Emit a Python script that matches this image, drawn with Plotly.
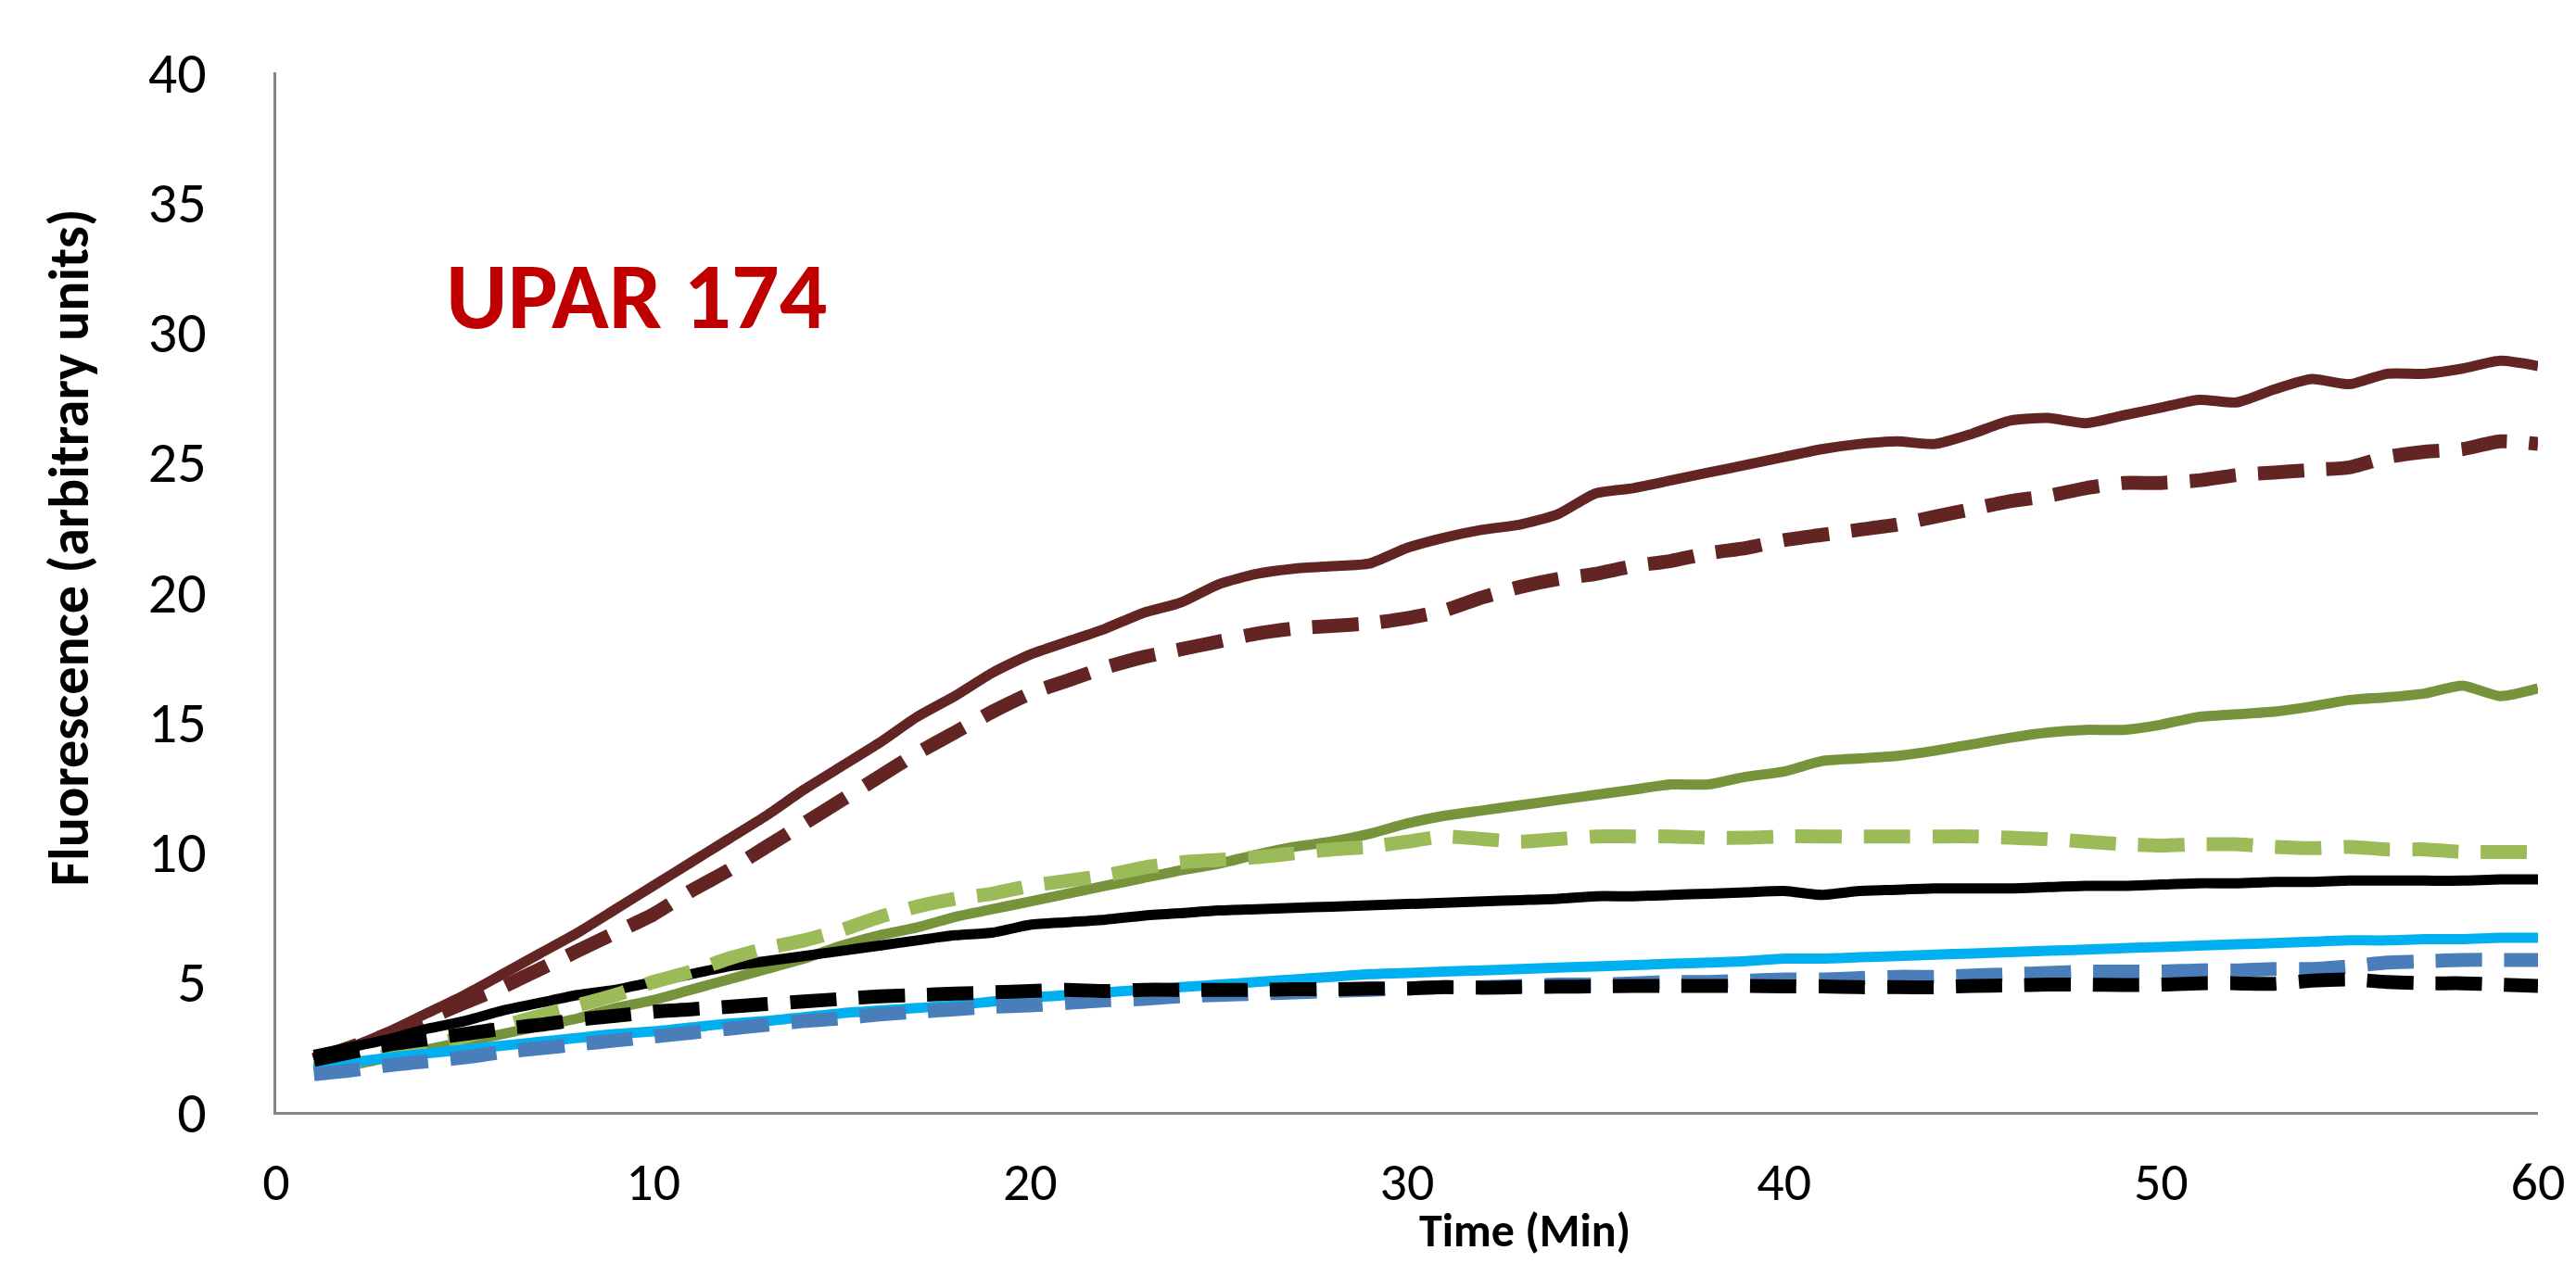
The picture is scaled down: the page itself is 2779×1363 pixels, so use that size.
import plotly.graph_objects as go

time_min = list(range(1, 61))

brown_solid = [2.0, 2.5, 3.1, 3.8, 4.5, 5.3, 6.1, 6.9, 7.8, 8.7,
               9.6, 10.5, 11.4, 12.4, 13.3, 14.2, 15.2, 16.0, 16.9, 17.6,
               18.1, 18.6, 19.2, 19.6, 20.3, 20.7, 20.9, 21.0, 21.1, 21.7,
               22.1, 22.4, 22.6, 23.0, 23.8, 24.0, 24.3, 24.6, 24.9, 25.2,
               25.5, 25.7, 25.8, 25.7, 26.1, 26.6, 26.7, 26.5, 26.8, 27.1,
               27.4, 27.3, 27.8, 28.2, 28.0, 28.4, 28.4, 28.6, 28.9, 28.7]

brown_dashed = [2.0, 2.5, 3.0, 3.6, 4.2, 4.8, 5.5, 6.2, 6.9, 7.6,
                8.5, 9.3, 10.2, 11.1, 12.0, 12.9, 13.8, 14.6, 15.4, 16.1,
                16.6, 17.1, 17.5, 17.8, 18.1, 18.4, 18.6, 18.7, 18.8, 19.0,
                19.3, 19.8, 20.2, 20.5, 20.7, 21.0, 21.2, 21.5, 21.7, 22.0,
                22.2, 22.4, 22.6, 22.9, 23.2, 23.5, 23.7, 24.0, 24.2, 24.2,
                24.3, 24.5, 24.6, 24.7, 24.8, 25.2, 25.4, 25.5, 25.8, 25.7]

olive_solid = [1.6, 1.8, 2.1, 2.4, 2.7, 3.0, 3.3, 3.6, 4.0, 4.3,
               4.7, 5.1, 5.5, 5.9, 6.4, 6.8, 7.1, 7.5, 7.8, 8.1,
               8.4, 8.7, 9.0, 9.3, 9.55, 9.9, 10.2, 10.4, 10.7, 11.1,
               11.4, 11.6, 11.8, 12.0, 12.2, 12.4, 12.6, 12.6, 12.9, 13.1,
               13.5, 13.6, 13.7, 13.9, 14.15, 14.4, 14.6, 14.7, 14.7, 14.9,
               15.2, 15.3, 15.4, 15.6, 15.85, 15.95, 16.1, 16.4, 16.0, 16.3]

green_dashed = [1.7, 1.9, 2.2, 2.5, 2.9, 3.3, 3.7, 4.1, 4.5, 5.0,
                5.4, 5.9, 6.3, 6.6, 7.0, 7.5, 7.9, 8.2, 8.4, 8.7,
                8.9, 9.1, 9.4, 9.6, 9.7, 9.8, 9.95, 10.1, 10.2, 10.4,
                10.6, 10.5, 10.4, 10.5, 10.6, 10.6, 10.6, 10.55, 10.55, 10.6,
                10.6, 10.6, 10.6, 10.6, 10.6, 10.55, 10.5, 10.4, 10.3, 10.25,
                10.3, 10.3, 10.2, 10.15, 10.2, 10.1, 10.1, 10.0, 10.0, 10.0]

black_solid = [2.2, 2.5, 2.8, 3.2, 3.5, 3.9, 4.2, 4.5, 4.7, 5.0,
               5.3, 5.6, 5.8, 6.0, 6.2, 6.4, 6.6, 6.8, 6.9, 7.2,
               7.3, 7.4, 7.55, 7.65, 7.75, 7.8, 7.85, 7.9, 7.95, 8.0,
               8.05, 8.1, 8.15, 8.2, 8.3, 8.3, 8.35, 8.4, 8.45, 8.5,
               8.35, 8.5, 8.55, 8.6, 8.6, 8.6, 8.65, 8.7, 8.7, 8.75,
               8.8, 8.8, 8.85, 8.85, 8.9, 8.9, 8.9, 8.9, 8.95, 8.95]

cyan_solid = [1.7, 1.9, 2.1, 2.25, 2.4, 2.55, 2.7, 2.85, 3.0, 3.1,
              3.25, 3.4, 3.5, 3.65, 3.8, 3.9, 4.0, 4.1, 4.25, 4.4,
              4.5, 4.6, 4.7, 4.8, 4.9, 5.0, 5.1, 5.2, 5.3, 5.35,
              5.4, 5.45, 5.5, 5.55, 5.6, 5.65, 5.7, 5.75, 5.8, 5.9,
              5.9, 5.95, 6.0, 6.05, 6.1, 6.15, 6.2, 6.25, 6.3, 6.35,
              6.4, 6.45, 6.5, 6.55, 6.6, 6.6, 6.65, 6.65, 6.7, 6.7]

blue_dashed = [1.45, 1.6, 1.8, 1.95, 2.1, 2.3, 2.45, 2.6, 2.75, 2.9,
               3.05, 3.2, 3.35, 3.5, 3.6, 3.75, 3.85, 3.95, 4.05, 4.1,
               4.2, 4.3, 4.35, 4.45, 4.5, 4.55, 4.6, 4.65, 4.7, 4.75,
               4.8, 4.8, 4.85, 4.9, 4.9, 4.95, 5.0, 5.0, 5.05, 5.1,
               5.1, 5.15, 5.2, 5.2, 5.25, 5.3, 5.35, 5.4, 5.4, 5.4,
               5.45, 5.45, 5.5, 5.5, 5.6, 5.75, 5.8, 5.85, 5.85, 5.85]

black_dashed = [2.0, 2.3, 2.6, 2.8, 3.0, 3.2, 3.35, 3.55, 3.7, 3.85,
                3.95, 4.05, 4.15, 4.25, 4.35, 4.45, 4.5, 4.55, 4.6, 4.65,
                4.7, 4.65, 4.7, 4.7, 4.7, 4.7, 4.72, 4.72, 4.75, 4.75,
                4.8, 4.78, 4.8, 4.82, 4.83, 4.85, 4.85, 4.85, 4.85, 4.83,
                4.83, 4.8, 4.8, 4.8, 4.85, 4.87, 4.9, 4.9, 4.88, 4.9,
                4.95, 4.95, 4.93, 5.05, 5.1, 5.0, 4.95, 4.95, 4.9, 4.85]

x_ticks = [0, 10, 20, 30, 40, 50, 60]
y_ticks = [0, 5, 10, 15, 20, 25, 30, 35, 40]

FONT = "Calibri, Carlito, 'Open Sans', sans-serif"
SOLID_W = 11
DASH_W = 15
DASH = "50px,24px"

series = [
    (brown_solid, "#632523", SOLID_W, "solid"),
    (brown_dashed, "#632523", DASH_W, DASH),
    (olive_solid, "#77933C", SOLID_W, "solid"),
    (black_solid, "#000000", SOLID_W, "solid"),
    (green_dashed, "#9BBB59", DASH_W, DASH),
    (cyan_solid, "#00B0F0", SOLID_W, "solid"),
    (blue_dashed, "#4A7EBB", DASH_W, DASH),
    (black_dashed, "#000000", DASH_W, DASH),
]

fig = go.Figure()
for ys, color, w, dash in series:
    fig.add_trace(go.Scatter(
        x=time_min, y=ys, mode="lines",
        line=dict(color=color, width=w, dash=dash, shape="spline", smoothing=0.6),
        showlegend=False, hoverinfo="skip",
    ))

axis_common = dict(
    showgrid=False, zeroline=False, showline=True,
    linecolor="#868686", linewidth=3, ticks="",
)

fig.update_layout(
    width=2779, height=1363,
    margin=dict(l=298, r=37, t=78, b=163, pad=0),
    paper_bgcolor="white", plot_bgcolor="white",
    xaxis=dict(range=[0, 60], tickvals=x_ticks, ticklabelstandoff=22,
               tickfont=dict(family=FONT, size=58, color="#000000"), **axis_common),
    yaxis=dict(range=[0, 40], tickvals=y_ticks, ticklabelstandoff=60,
               tickfont=dict(family=FONT, size=62, color="#000000"), **axis_common),
    annotations=[
        dict(text="<b>UPAR 174</b>", x=4.44, y=31.4, xref="x", yref="y",
             xanchor="left", yanchor="middle", showarrow=False,
             font=dict(family=FONT, size=102, color="#C00000")),
        dict(text="<b>Fluorescence (arbitrary units)</b>", textangle=-90,
             x=-0.0912, y=0.5428, xref="paper", yref="paper",
             xanchor="center", yanchor="middle", showarrow=False,
             font=dict(family=FONT, size=60, color="#000000")),
        dict(text="<b>Time (Min)</b>",
             x=0.552, y=-0.1426, xref="paper", yref="paper",
             xanchor="center", yanchor="bottom", showarrow=False,
             font=dict(family=FONT, size=50, color="#000000")),
    ],
)

fig.write_html("out.html", config={"displayModeBar": False},
               post_script="document.body.style.margin='0';document.body.style.overflow='hidden';")
